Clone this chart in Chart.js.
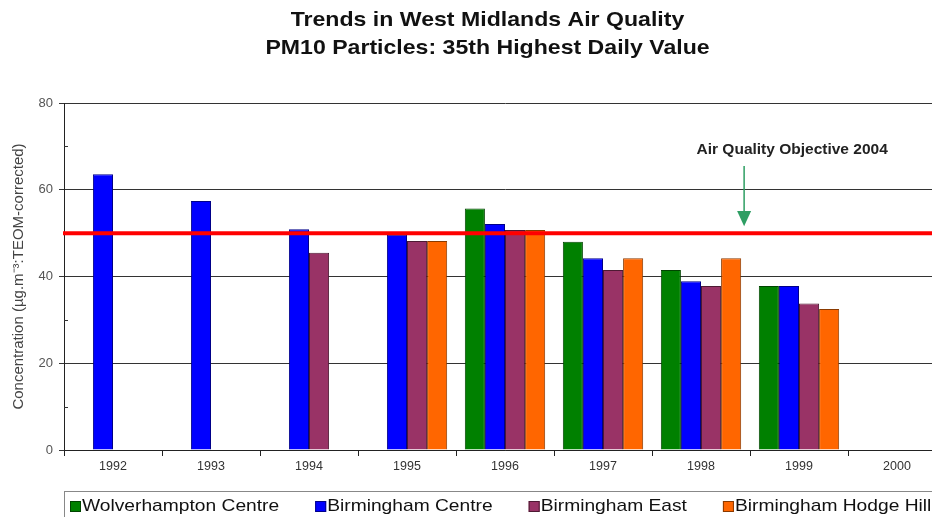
<!DOCTYPE html>
<html>
<head>
<meta charset="utf-8">
<script src="https://cdn.jsdelivr.net/npm/chart.js@4"></script>
<style>
  html, body { margin: 0; padding: 0; background: #fff; overflow: hidden; }
  #wrap { width: 975px; height: 535px; }
</style>
</head>
<body>
<div id="wrap"><canvas id="chart" width="975" height="535"></canvas></div>
<script>
// data
const years = ['1992', '1993', '1994', '1995', '1996', '1997', '1998', '1999', '2000'];
const wolverhampton = [null, null, null, null, 55.7, 48.0, 41.5, 37.8, null];
const bhamCentre = [63.6, 57.4, 50.9, 49.6, 52.1, 44.2, 38.9, 37.8, null];
const bhamEast = [null, null, 45.5, 48.2, 50.7, 41.5, 37.8, 33.8, null];
const hodgeHill = [null, null, null, 48.2, 50.7, 44.2, 44.2, 32.5, null];
const objective = 50;
const yTicks = [0, 20, 40, 60, 80];
const titleLines = ['Trends in West Midlands Air Quality', 'PM10 Particles: 35th Highest Daily Value'];

const FONT = 'Arial, "Liberation Sans", sans-serif';

// the original text is drawn a little wide, so stretch it horizontally
function wideText(ctx, text, x, y, sx, align) {
  ctx.save();
  ctx.translate(x, y);
  ctx.scale(sx, 1);
  ctx.textAlign = align;
  ctx.fillText(text, 0, 0);
  ctx.restore();
}

const extras = {
  id: 'extras',
  afterDatasetsDraw(chart) {
    const { ctx, chartArea, scales } = chart;
    const x = scales.x, y = scales.y;
    ctx.save();

    // minor ticks inside the y axis
    ctx.strokeStyle = '#333';
    ctx.lineWidth = 1;
    [10, 30, 50, 70].forEach(v => {
      const py = Math.round(y.getPixelForValue(v)) + 0.5;
      ctx.beginPath();
      ctx.moveTo(chartArea.left, py);
      ctx.lineTo(chartArea.left + 4, py);
      ctx.stroke();
    });

    // objective line
    const oy = y.getPixelForValue(objective);
    ctx.strokeStyle = '#ff0000';
    ctx.lineWidth = 4;
    ctx.beginPath();
    ctx.moveTo(chartArea.left - 1, oy);
    ctx.lineTo(chartArea.right, oy);
    ctx.stroke();

    // arrow
    const ax = x.getPixelForValue(6.44);
    const top = y.getPixelForValue(65.5);
    const headTop = y.getPixelForValue(55.1);
    const tip = y.getPixelForValue(51.6);
    ctx.strokeStyle = '#2e9e63';
    ctx.fillStyle = '#2e9e63';
    ctx.lineWidth = 1.5;
    ctx.beginPath();
    ctx.moveTo(ax, top);
    ctx.lineTo(ax, headTop);
    ctx.stroke();
    ctx.beginPath();
    ctx.moveTo(ax - 7, headTop);
    ctx.lineTo(ax + 7, headTop);
    ctx.lineTo(ax, tip);
    ctx.closePath();
    ctx.fill();

    ctx.fillStyle = '#222';
    ctx.font = 'bold 15.5px ' + FONT;
    ctx.textBaseline = 'middle';
    wideText(ctx, 'Air Quality Objective 2004', x.getPixelForValue(6.93), y.getPixelForValue(69.2), 1, 'center');
    ctx.restore();
  },
  afterDraw(chart) {
    const { ctx, chartArea, width } = chart;
    ctx.save();

    // title
    ctx.fillStyle = '#111';
    ctx.font = 'bold 21px ' + FONT;
    ctx.textBaseline = 'middle';
    wideText(ctx, titleLines[0], width / 2, 20, 1.1, 'center');
    wideText(ctx, titleLines[1], width / 2, 48, 1.1, 'center');

    // legend box
    ctx.strokeStyle = '#888';
    ctx.lineWidth = 1;
    ctx.strokeRect(chartArea.left + 0.5, 491.5, 960, 60);

    const sx = 1.13;
    ctx.font = '17px ' + FONT;
    ctx.textBaseline = 'middle';
    let lx = chartArea.left + 6;
    const ly = 506;
    chart.data.datasets.forEach(ds => {
      ctx.fillStyle = ds.backgroundColor;
      ctx.strokeStyle = ds.borderColor;
      ctx.fillRect(lx, ly - 5, 11, 11);
      ctx.strokeRect(lx + 0.5, ly - 4.5, 10, 10);
      ctx.fillStyle = '#111';
      wideText(ctx, ds.label, lx + 12, ly, sx, 'left');
      lx += 12 + ctx.measureText(ds.label).width * sx + 36;
    });
    ctx.restore();
  }
};

new Chart(document.getElementById('chart'), {
  type: 'bar',
  data: {
    labels: years,
    datasets: [
      { label: 'Wolverhampton Centre', data: wolverhampton, backgroundColor: '#008000', borderColor: '#004400' },
      { label: 'Birmingham Centre', data: bhamCentre, backgroundColor: '#0000ff', borderColor: '#000088' },
      { label: 'Birmingham East', data: bhamEast, backgroundColor: '#993366', borderColor: '#4d1a33' },
      { label: 'Birmingham Hodge Hill', data: hodgeHill, backgroundColor: '#ff6600', borderColor: '#8a3a00' }
    ]
  },
  options: {
    responsive: false,
    animation: false,
    devicePixelRatio: 1,
    datasets: { bar: { borderWidth: 1, barPercentage: 1, categoryPercentage: 0.82 } },
    layout: { padding: { left: 0, right: 29, top: 103, bottom: 55 } },
    plugins: {
      legend: { display: false },
      tooltip: { enabled: false },
      title: { display: false }
    },
    scales: {
      x: {
        afterFit(scale) { scale.height = 30; },
        border: { display: true, color: '#222', width: 1 },
        grid: { offset: true, drawOnChartArea: false, drawTicks: true, tickLength: 6, color: '#222' },
        ticks: { color: '#333', font: { family: FONT, size: 12.5 }, padding: 3, maxRotation: 0 }
      },
      y: {
        min: 0,
        max: 80,
        afterFit(scale) { scale.width = 64; },
        afterBuildTicks(scale) {
          scale.ticks = [];
          for (let v = 0; v <= 80; v += 10) scale.ticks.push({ value: v });
        },
        border: { display: true, color: '#222', width: 1 },
        grid: {
          color: c => (yTicks.includes(c.tick.value) ? '#333' : 'rgba(0,0,0,0)'),
          tickColor: c => (yTicks.includes(c.tick.value) ? '#333' : 'rgba(0,0,0,0)'),
          tickLength: 5
        },
        ticks: {
          color: '#555',
          font: { family: FONT, size: 13 },
          padding: 6,
          callback: v => (yTicks.includes(v) ? v : '')
        },
        title: {
          display: true,
          text: 'Concentration (µg.m⁻³:TEOM-corrected)',
          color: '#444',
          font: { family: FONT, size: 15 },
          padding: { top: 10, bottom: 0 }
        }
      }
    }
  },
  plugins: [extras]
});
</script>
</body>
</html>
